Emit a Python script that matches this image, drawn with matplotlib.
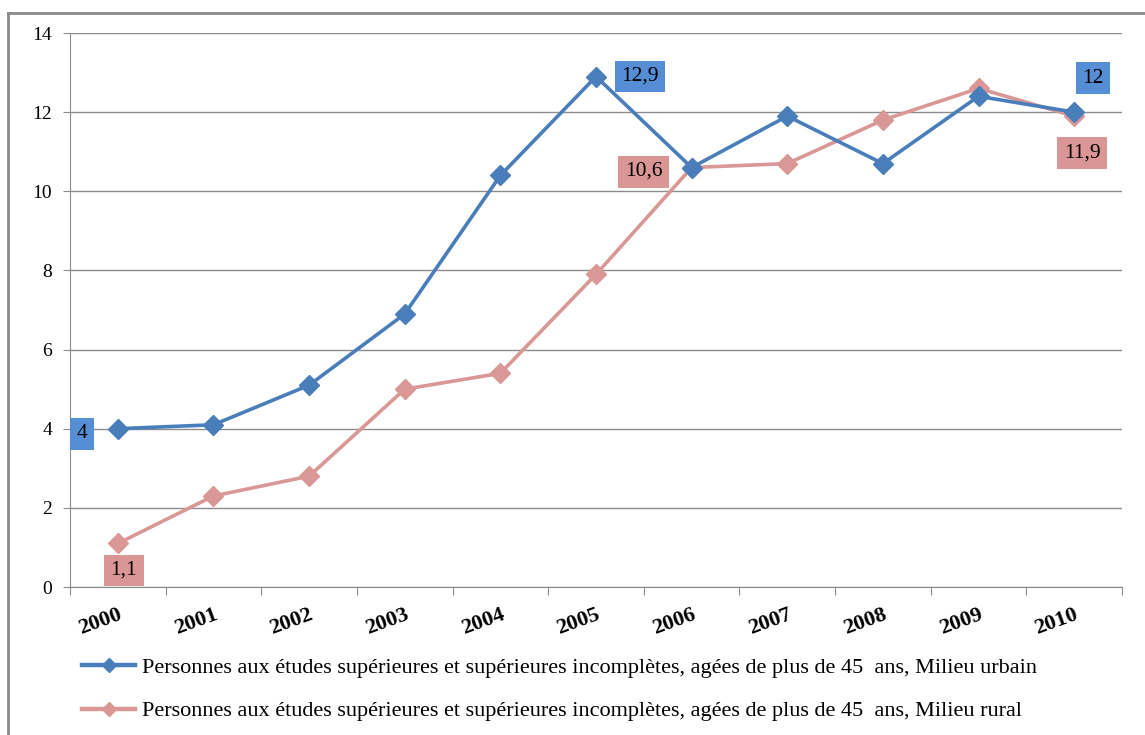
import matplotlib.pyplot as plt
from matplotlib.lines import Line2D
import numpy as np

plt.rcParams['font.family'] = ['Liberation Serif', 'DejaVu Serif']

years = ['2000', '2001', '2002', '2003', '2004', '2005', '2006', '2007', '2008', '2009', '2010']
urbain = [4, 4.1, 5.1, 6.9, 10.4, 12.9, 10.6, 11.9, 10.7, 12.4, 12]
rural = [1.1, 2.3, 2.8, 5.0, 5.4, 7.9, 10.6, 10.7, 11.8, 12.6, 11.9]
label_urbain = 'Personnes aux études supérieures et supérieures incomplètes, agées de plus de 45  ans, Milieu urbain'
label_rural = 'Personnes aux études supérieures et supérieures incomplètes, agées de plus de 45  ans, Milieu rural'

c_blue = '#4A7EBB'
c_pink = '#D99795'
box_blue = '#558ED5'
box_pink = '#D99694'

fig = plt.figure(figsize=(11.45, 7.35), dpi=100)
ax = fig.add_axes([70 / 1145, 1 - 587 / 735, 1052 / 1145, 554 / 735])

x = np.arange(len(years))
ax.plot(x, urbain, color=c_blue, lw=2.6, marker='D', markersize=10, zorder=4)
ax.plot(x, rural, color=c_pink, lw=2.6, marker='D', markersize=10, zorder=3)

ax.set_xlim(-0.5, len(years) - 0.5)
ax.set_ylim(0, 14)
ax.set_yticks(range(0, 15, 2))
ax.yaxis.grid(True, color='#8c8c8c', lw=1)
ax.set_axisbelow(True)
for s in ['top', 'right']:
    ax.spines[s].set_visible(False)
for s in ['left', 'bottom']:
    ax.spines[s].set_color('#8c8c8c')
ax.tick_params(axis='y', length=5, color='#8c8c8c', labelsize=14, pad=8)

# category boundaries as ticks, labels at centers
ax.set_xticks(np.arange(-0.5, len(years), 1))
ax.set_xticklabels([])
ax.tick_params(axis='x', which='major', length=6, color='#8c8c8c')
ax.set_xticks(x, minor=True)
ax.set_xticklabels(years, minor=True, rotation=20, ha='right', va='top',
                   rotation_mode='anchor', fontsize=16, fontweight='bold')
ax.tick_params(axis='x', which='minor', length=0, pad=13)

# data labels
def tag(i, vals, text, dx, dy, fc):
    ax.annotate(text, (x[i], vals[i]), xytext=(dx, dy), textcoords='offset pixels',
                ha='center', va='center', fontsize=15.5, zorder=6,
                bbox=dict(boxstyle='square,pad=0.3', fc=fc, ec='none'))

tag(0, urbain, '4', -36, -5, box_blue)
tag(5, urbain, '12,9', 44, 0, box_blue)
tag(10, urbain, '12', 19, 34, box_blue)
tag(0, rural, '1,1', 6, -27, box_pink)
tag(6, rural, '10,6', -48, -4, box_pink)
tag(10, rural, '11,9', 8, -37, box_pink)

handles = [Line2D([], [], color=c_blue, lw=3.2, marker='D', markersize=7),
           Line2D([], [], color=c_pink, lw=3.2, marker='D', markersize=7)]
fig.legend(handles, [label_urbain, label_rural], loc='upper left',
           bbox_to_anchor=(62 / 1145, 1 - 637 / 735), frameon=False,
           fontsize=16, handlelength=2.4, labelspacing=1.05, handletextpad=0.3)

# outer frame (top and left visible)
fig.add_artist(Line2D([8 / 1145, 1], [1 - 13 / 735, 1 - 13 / 735], color='#8a8a8a', lw=2))
fig.add_artist(Line2D([8 / 1145, 8 / 1145], [0, 1 - 13 / 735], color='#8a8a8a', lw=2))

fig.savefig('out.png', dpi=100)
